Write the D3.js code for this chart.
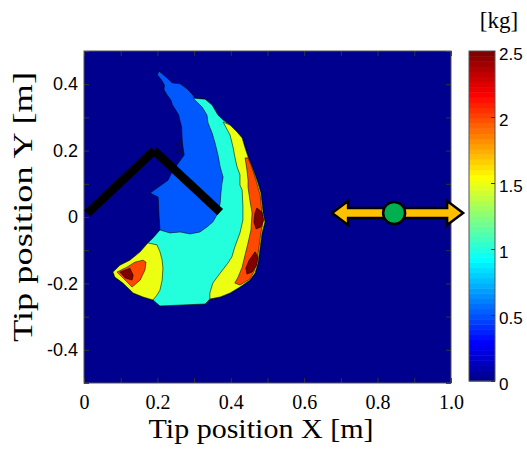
<!DOCTYPE html>
<html>
<head>
<meta charset="utf-8">
<script src="https://cdn.jsdelivr.net/npm/d3@7"></script>
<style>
  body { margin: 0; background: #fff; }
  svg { display: block; }
</style>
</head>
<body>
<svg id="chart" width="527" height="454"></svg>
<script>
// ---- data -----------------------------------------------------------------
// axis ticks and labels
const xTicks = [0, 0.2, 0.4, 0.6, 0.8, 1.0];
const xTickLabels = ["0", "0.2", "0.4", "0.6", "0.8", "1.0"];
const yTicks = [0.4, 0.2, 0, -0.2, -0.4];
const yTickLabels = ["0.4", "0.2", "0", "-0.2", "-0.4"];
const cbTicks = [0, 0.5, 1, 1.5, 2, 2.5];
const cbTickLabels = ["0", "0.5", "1", "1.5", "2", "2.5"];

// filled contour regions: value >= level inside each outline, [x, y] in metres
const region05 = [
  [0.204, 0.440], [0.226, 0.419], [0.240, 0.404], [0.262, 0.401], [0.281, 0.386],
  [0.297, 0.367], [0.302, 0.358], [0.330, 0.355], [0.349, 0.337], [0.357, 0.322],
  [0.365, 0.307], [0.379, 0.292], [0.398, 0.277], [0.417, 0.256], [0.431, 0.238],
  [0.439, 0.208], [0.447, 0.181], [0.458, 0.151], [0.466, 0.127], [0.474, 0.102],
  [0.482, 0.072], [0.488, 0.012], [0.493, -0.015], [0.485, -0.048], [0.480, -0.090],
  [0.474, -0.139], [0.466, -0.169], [0.452, -0.190], [0.425, -0.211], [0.398, -0.229],
  [0.371, -0.241], [0.343, -0.247], [0.330, -0.262], [0.207, -0.268], [0.188, -0.250],
  [0.161, -0.241], [0.134, -0.229], [0.106, -0.199], [0.084, -0.181], [0.079, -0.166],
  [0.098, -0.145], [0.125, -0.130], [0.153, -0.105], [0.174, -0.078], [0.188, -0.063],
  [0.207, -0.039], [0.204, 0.012], [0.202, 0.060], [0.180, 0.072], [0.229, 0.111],
  [0.240, 0.136], [0.273, 0.187], [0.268, 0.223], [0.266, 0.271], [0.261, 0.292],
  [0.258, 0.307], [0.250, 0.322], [0.241, 0.337], [0.237, 0.352], [0.227, 0.367],
  [0.218, 0.383], [0.219, 0.398], [0.211, 0.413], [0.200, 0.428]
];
const region10 = [
  [0.297, 0.358], [0.322, 0.331], [0.335, 0.307], [0.338, 0.283], [0.349, 0.253],
  [0.357, 0.223], [0.365, 0.187], [0.371, 0.151], [0.379, 0.120], [0.376, 0.102],
  [0.373, 0.072], [0.371, 0.042], [0.365, 0.012], [0.351, -0.015], [0.335, -0.030],
  [0.316, -0.045], [0.289, -0.051], [0.262, -0.045], [0.234, -0.048], [0.207, -0.039],
  [0.188, -0.063], [0.174, -0.078], [0.153, -0.105], [0.125, -0.130], [0.098, -0.145],
  [0.079, -0.166], [0.084, -0.181], [0.106, -0.199], [0.134, -0.229], [0.161, -0.241],
  [0.188, -0.250], [0.207, -0.268], [0.330, -0.262], [0.343, -0.247], [0.371, -0.241],
  [0.398, -0.229], [0.425, -0.211], [0.452, -0.190], [0.466, -0.169], [0.474, -0.139],
  [0.480, -0.090], [0.485, -0.048], [0.493, -0.015], [0.488, 0.012], [0.482, 0.072],
  [0.474, 0.102], [0.466, 0.127], [0.458, 0.151], [0.447, 0.181], [0.439, 0.208],
  [0.431, 0.238], [0.417, 0.256], [0.398, 0.277], [0.379, 0.292], [0.365, 0.307],
  [0.357, 0.322], [0.349, 0.337], [0.330, 0.355]
];
const region15Outer = [
  [0.379, 0.286], [0.398, 0.247], [0.406, 0.211], [0.411, 0.181], [0.417, 0.151],
  [0.425, 0.127], [0.425, 0.096], [0.431, 0.081], [0.433, 0.030], [0.433, -0.009],
  [0.425, -0.048], [0.411, -0.090], [0.403, -0.120], [0.392, -0.139], [0.371, -0.169],
  [0.351, -0.199], [0.343, -0.229], [0.343, -0.247], [0.371, -0.241], [0.398, -0.229],
  [0.425, -0.211], [0.452, -0.190], [0.466, -0.169], [0.474, -0.139], [0.480, -0.090],
  [0.485, -0.048], [0.493, -0.015], [0.488, 0.012], [0.482, 0.072], [0.474, 0.102],
  [0.466, 0.127], [0.458, 0.151], [0.447, 0.181], [0.439, 0.208], [0.431, 0.238],
  [0.417, 0.256], [0.398, 0.277]
];
const region15Inner = [
  [0.174, -0.078], [0.199, -0.084], [0.207, -0.105], [0.213, -0.130], [0.215, -0.154],
  [0.213, -0.190], [0.207, -0.220], [0.199, -0.235], [0.188, -0.250], [0.161, -0.241],
  [0.134, -0.229], [0.106, -0.199], [0.084, -0.181], [0.079, -0.166], [0.098, -0.145],
  [0.125, -0.130], [0.153, -0.105]
];
const region20Outer = [
  [0.439, 0.178], [0.444, 0.142], [0.447, 0.111], [0.447, 0.090], [0.452, 0.051],
  [0.458, 0.012], [0.455, -0.039], [0.447, -0.078], [0.439, -0.114], [0.431, -0.151],
  [0.420, -0.181], [0.411, -0.199], [0.425, -0.205], [0.452, -0.187], [0.463, -0.166],
  [0.471, -0.136], [0.477, -0.090], [0.482, -0.048], [0.488, -0.015], [0.485, 0.012],
  [0.480, 0.066], [0.471, 0.102], [0.463, 0.130], [0.455, 0.157], [0.447, 0.178]
];
const region20Inner = [
  [0.169, -0.136], [0.161, -0.130], [0.139, -0.136], [0.117, -0.151], [0.090, -0.166],
  [0.112, -0.190], [0.131, -0.211], [0.153, -0.190], [0.166, -0.160]
];
const region25A = [
  [0.471, 0.027], [0.485, 0.015], [0.490, -0.009], [0.482, -0.030], [0.469, -0.036],
  [0.463, -0.015], [0.466, 0.012]
];
const region25B = [
  [0.466, -0.105], [0.474, -0.120], [0.471, -0.145], [0.458, -0.166], [0.444, -0.172],
  [0.441, -0.154], [0.450, -0.130]
];
const region25C = [
  [0.125, -0.154], [0.098, -0.166], [0.112, -0.184], [0.131, -0.190], [0.134, -0.175]
];

// two-link arm: base, elbow, tip [m]
const armJoints = [[0.009, 0.011], [0.191, 0.200], [0.371, 0.015]];
// slider: travel range along x, track height and carriage position [m]
const sliderRange = [0.676, 1.033];
const sliderY = 0.012;
const sliderPos = 0.845;

// ---- layout ---------------------------------------------------------------
const plot = { left: 84, top: 51, right: 451, bottom: 383 };
const bar = { left: 469, right: 495, top: 51, bottom: 381 };
const serif = "'Liberation Serif', 'Times New Roman', serif";
const sans = "'Liberation Sans', Arial, sans-serif";

const x = d3.scaleLinear().domain([0, 1]).range([plot.left, plot.right]);
const y = d3.scaleLinear().domain([-0.5, 0.5]).range([plot.bottom, plot.top]);
const cb = d3.scaleLinear().domain([0, 2.5]).range([bar.bottom, bar.top]);

// jet colour map on the 0 - 2.5 kg range
const jet = d3.scaleLinear()
  .domain([0, 0.278, 0.913, 1.548, 2.183, 2.5])
  .range(["#00008f", "#0000ff", "#00ffff", "#ffff00", "#ff0000", "#800000"])
  .interpolate(d3.interpolateRgb)
  .clamp(true);

const regions = [
  { level: 0.5, pts: region05 },
  { level: 1.0, pts: region10 },
  { level: 1.5, pts: region15Outer },
  { level: 1.5, pts: region15Inner },
  { level: 2.0, pts: region20Outer },
  { level: 2.0, pts: region20Inner },
  { level: 2.5, pts: region25A },
  { level: 2.5, pts: region25B },
  { level: 2.5, pts: region25C }
];

const svg = d3.select("#chart");
svg.append("defs").append("clipPath").attr("id", "plot-clip")
  .append("rect")
  .attr("x", plot.left).attr("y", plot.top)
  .attr("width", plot.right - plot.left).attr("height", plot.bottom - plot.top);

// ---- contour map ----------------------------------------------------------
const map = svg.append("g").attr("clip-path", "url(#plot-clip)");
map.append("rect")
  .attr("x", plot.left).attr("y", plot.top)
  .attr("width", plot.right - plot.left).attr("height", plot.bottom - plot.top)
  .attr("fill", jet(0));

const outline = d3.line().x(d => x(d[0])).y(d => y(d[1])).curve(d3.curveLinearClosed);
map.selectAll("path.region")
  .data(regions)
  .join("path")
  .attr("class", "region")
  .attr("d", d => outline(d.pts))
  .attr("fill", d => jet(d.level))
  .attr("stroke", "#000")
  .attr("stroke-width", 0.8)
  .attr("stroke-opacity", 0.7)
  .attr("stroke-linejoin", "round");

// contour label
map.append("text")
  .attr("transform", `translate(${x(0.262)},${y(0.208)}) rotate(-90)`)
  .attr("text-anchor", "middle")
  .attr("dy", "0.35em")
  .attr("font-family", sans)
  .attr("font-size", 9)
  .attr("fill", "#111")
  .text("0.5");

// ---- frame and ticks ------------------------------------------------------
const tickColor = "#333";
function inner(axis, tx, ty, scale, n) {
  const g = svg.append("g").attr("transform", `translate(${tx},${ty})`)
    .call(axis(scale).ticks(n).tickSize(-5).tickFormat(""));
  g.select(".domain").remove();
  g.selectAll("line").attr("stroke", tickColor);
}
inner(d3.axisBottom, 0, plot.bottom, x, 10);
inner(d3.axisTop, 0, plot.top, x, 10);
inner(d3.axisLeft, plot.left, 0, y, 10);
inner(d3.axisRight, plot.right, 0, y, 10);

svg.append("rect")
  .attr("x", plot.left).attr("y", plot.top)
  .attr("width", plot.right - plot.left).attr("height", plot.bottom - plot.top)
  .attr("fill", "none").attr("stroke", "#555").attr("stroke-width", 1);

// tick labels
const xLab = svg.append("g").attr("transform", `translate(0,${plot.bottom})`)
  .call(d3.axisBottom(x).tickValues(xTicks).tickSize(0).tickFormat((d, i) => xTickLabels[i]));
xLab.select(".domain").remove();
xLab.selectAll("text")
  .attr("y", 26).attr("dy", 0)
  .attr("font-family", serif).attr("font-size", 20).attr("fill", "#000");

const yLab = svg.append("g").attr("transform", `translate(${plot.left},0)`)
  .call(d3.axisLeft(y).tickValues(yTicks).tickSize(0).tickPadding(6).tickFormat((d, i) => yTickLabels[i]));
yLab.select(".domain").remove();
yLab.selectAll("text")
  .attr("font-family", sans).attr("font-size", 18).attr("fill", "#000");

// axis titles
svg.append("text")
  .attr("x", 261).attr("y", 438)
  .attr("text-anchor", "middle")
  .attr("font-family", serif).attr("font-size", 27)
  .attr("textLength", 225).attr("lengthAdjust", "spacingAndGlyphs")
  .text("Tip position X [m]");
svg.append("text")
  .attr("transform", "translate(32,207) rotate(-90)")
  .attr("text-anchor", "middle")
  .attr("font-family", serif).attr("font-size", 28)
  .attr("textLength", 270).attr("lengthAdjust", "spacingAndGlyphs")
  .text("Tip position Y [m]");

// ---- arm and slider -------------------------------------------------------
const segs = d3.pairs(armJoints);
svg.selectAll("line.arm")
  .data(segs)
  .join("line")
  .attr("class", "arm")
  .attr("x1", d => x(d[0][0])).attr("y1", d => y(d[0][1]))
  .attr("x2", d => x(d[1][0])).attr("y2", d => y(d[1][1]))
  .attr("stroke", "#000").attr("stroke-width", 8.5).attr("stroke-linecap", "butt");

const xl = x(sliderRange[0]), xr = x(sliderRange[1]), cy = y(sliderY);
const head = 16, headHalf = 12, shaft = 5;
const arrow = d3.path();
arrow.moveTo(xl, cy);
arrow.lineTo(xl + head, cy - headHalf);
arrow.lineTo(xl + head, cy - shaft);
arrow.lineTo(xr - head, cy - shaft);
arrow.lineTo(xr - head, cy - headHalf);
arrow.lineTo(xr, cy);
arrow.lineTo(xr - head, cy + headHalf);
arrow.lineTo(xr - head, cy + shaft);
arrow.lineTo(xl + head, cy + shaft);
arrow.lineTo(xl + head, cy + headHalf);
arrow.closePath();
svg.append("path")
  .attr("d", arrow.toString())
  .attr("fill", "#ffc000").attr("stroke", "#000").attr("stroke-width", 2.5)
  .attr("stroke-linejoin", "miter");
svg.append("circle")
  .attr("cx", x(sliderPos)).attr("cy", cy).attr("r", 11)
  .attr("fill", "#00b050").attr("stroke", "#000").attr("stroke-width", 2.5);

// ---- colour bar -----------------------------------------------------------
const steps = d3.range(64);
svg.selectAll("rect.cstep")
  .data(steps)
  .join("rect")
  .attr("class", "cstep")
  .attr("x", bar.left)
  .attr("width", bar.right - bar.left)
  .attr("y", i => cb((i + 1) / 64 * 2.5))
  .attr("height", i => cb(i / 64 * 2.5) - cb((i + 1) / 64 * 2.5) + 0.5)
  .attr("fill", i => jet(i / 63 * 2.5));
svg.append("rect")
  .attr("x", bar.left).attr("y", bar.top)
  .attr("width", bar.right - bar.left).attr("height", bar.bottom - bar.top)
  .attr("fill", "none").attr("stroke", "#555").attr("stroke-width", 1);

const cbAxis = svg.append("g").attr("transform", `translate(${bar.right},0)`)
  .call(d3.axisRight(cb).tickValues(cbTicks).tickSize(-4).tickPadding(4)
    .tickFormat((d, i) => cbTickLabels[i]));
cbAxis.select(".domain").remove();
cbAxis.selectAll("line").attr("stroke", "#333");
cbAxis.selectAll("text")
  .attr("dy", "0.5em")
  .attr("font-family", sans).attr("font-size", 17).attr("fill", "#000");

svg.append("text")
  .attr("x", 499).attr("y", 28)
  .attr("text-anchor", "middle")
  .attr("font-family", serif).attr("font-size", 23)
  .text("[kg]");
</script>
</body>
</html>
